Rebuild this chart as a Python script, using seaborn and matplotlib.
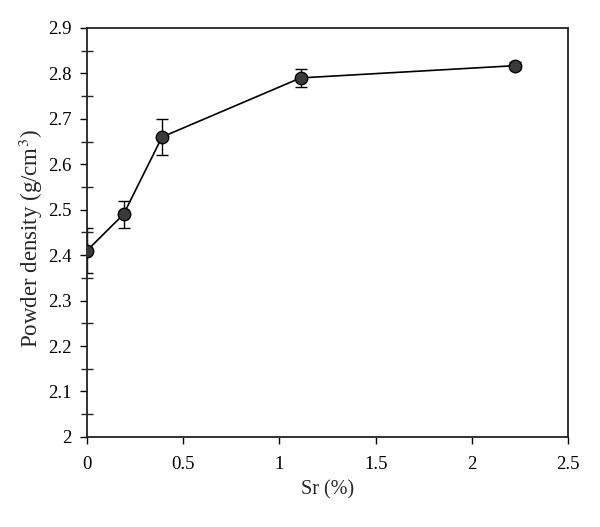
import matplotlib
matplotlib.use("Agg")
import matplotlib.pyplot as plt
import numpy as np
import pandas as pd
import seaborn as sns
from matplotlib.ticker import MultipleLocator

sr = [0.0, 0.19, 0.39, 1.11, 2.225]
density = [2.41, 2.49, 2.66, 2.79, 2.817]
err = [0.05, 0.03, 0.04, 0.02, 0.008]

df = pd.DataFrame({"sr": sr, "density": density, "err": err})

sns.set_style("ticks")
plt.rcParams['font.family'] = ['Liberation Serif', 'DejaVu Serif']
plt.rcParams['mathtext.fontset'] = 'stix'

fig = plt.figure(figsize=(6.0, 5.27), dpi=100)
ax = fig.add_axes([0.145, 0.171, 0.802, 0.776])

ax.errorbar(df["sr"], df["density"], yerr=df["err"], fmt="none",
            ecolor="black", elinewidth=1.0, capsize=4, capthick=1.0, zorder=2)
sns.lineplot(data=df, x="sr", y="density", ax=ax, color="black", linewidth=1.2,
             marker="o", markersize=9, markerfacecolor="#3a3a3a",
             markeredgecolor="black", markeredgewidth=1.0, zorder=3)

ax.set_xlim(0, 2.5)
ax.set_ylim(2.0, 2.9)
ax.yaxis.set_minor_locator(MultipleLocator(0.05))
ax.set_xticks([0, 0.5, 1, 1.5, 2, 2.5])
ax.set_xticklabels(["0", "0.5", "1", "1.5", "2", "2.5"])
ax.set_yticks([2.0, 2.1, 2.2, 2.3, 2.4, 2.5, 2.6, 2.7, 2.8, 2.9])
ax.set_yticklabels(["2", "2.1", "2.2", "2.3", "2.4", "2.5", "2.6", "2.7", "2.8", "2.9"])

ax.tick_params(axis="both", which="major", direction="out", length=5, width=1,
               labelsize=13.5, colors="black", pad=6)
ax.tick_params(axis="x", which="major", pad=9)
ax.tick_params(axis="y", which="minor", direction="inout", length=8, width=1)

for s in ax.spines.values():
    s.set_visible(True)
    s.set_linewidth(1.3)
    s.set_color("#222222")

ax.set_xlabel("Sr (%)", fontsize=14.5, labelpad=5)
ax.set_ylabel("Powder density (g/cm$^3$)", fontsize=16.5, labelpad=2)
ax.yaxis.label.set_y(0.484)

fig.savefig("out.png", dpi=100)
